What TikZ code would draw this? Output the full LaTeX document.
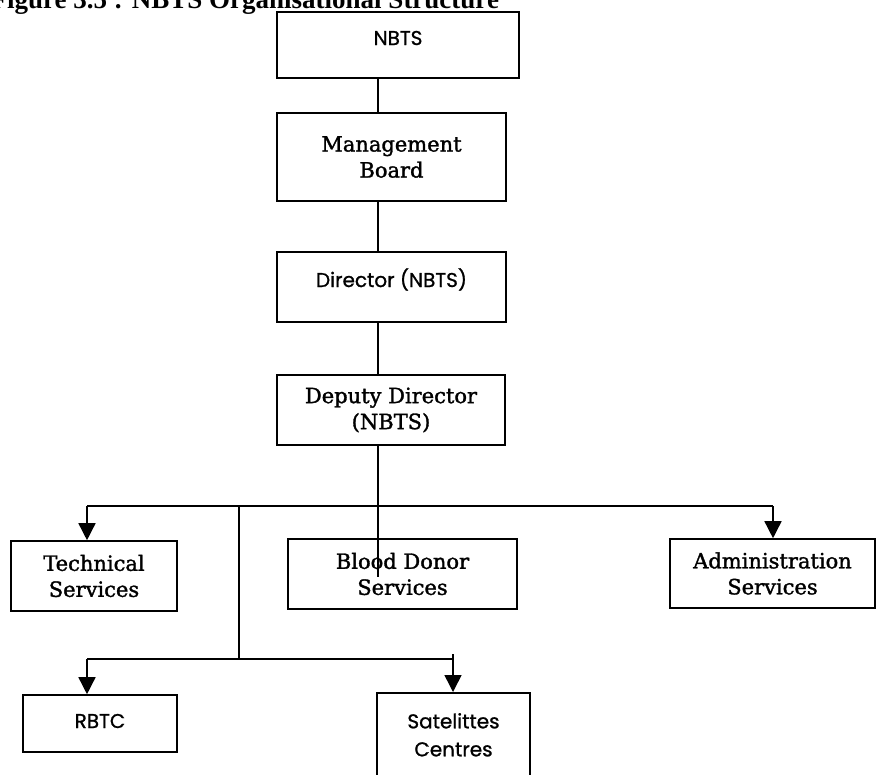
\documentclass[tikz,border=0pt]{standalone}
\usepackage{fontspec}
\newfontfamily\titlefont{Liberation Serif}
\newfontfamily\serifbox{DejaVu Serif}[FakeBold=1.5]
\newfontfamily\sansbox{Poppins}[FakeBold=1]
\usetikzlibrary{arrows.meta}
\begin{document}
\begin{tikzpicture}[x=1pt,y=-1pt,
  box/.style={draw, line width=1.6pt, inner sep=0pt, align=center},
  sbox/.style={box, font=\fontsize{21}{26}\serifbox},
  gbox/.style={box, font=\fontsize{20}{28}\sansbox, text height=14pt, text depth=14pt},
  conn/.style={line width=1.5pt},
  arr/.style={conn, -{Triangle[length=17pt,width=17pt]}}
]
\useasboundingbox (0,0) rectangle (877,774);
\node[anchor=base west, inner sep=0pt, font=\titlefont\bfseries\fontsize{27}{30}\selectfont] (title) at (-9.5,8) {Figure 3.5 : NBTS Organisational Structure};

\node[gbox, minimum width=242pt, minimum height=66pt] (nbts) at (398,45) {NBTS};
\node[sbox, minimum width=229pt, minimum height=88pt] (mgmt) at (391.5,157) {Management\\Board};
\node[gbox, minimum width=229pt, minimum height=70pt] (dir) at (391.5,287) {Director (NBTS)};
\node[sbox, minimum width=228pt, minimum height=70pt] (dep) at (391,410) {Deputy Director\\(NBTS)};
\node[sbox, minimum width=166pt, minimum height=70pt] (tech) at (94,576) {Technical\\Services};
\node[sbox, minimum width=229pt, minimum height=70pt] (blood) at (402.5,574) {Blood Donor\\Services};
\node[sbox, minimum width=205pt, minimum height=69pt] (admin) at (772.5,573.5) {Administration\\Services};
\node[gbox, minimum width=154pt, minimum height=57pt, text height=14pt, text depth=5pt] (rbtc) at (100,723.5) {RBTC};
\node[box, font=\fontsize{20}{28}\sansbox, minimum width=153pt, minimum height=84pt, anchor=north] (sat) at (453.5,692) {Satelittes\\Centres};

\coordinate (sp) at (378,0);
\coordinate (busL) at (87,506);
\coordinate (busR) at (773,506);
\coordinate (drop) at (239,506);
\coordinate (bloodtick) at (378,577);
\coordinate (b2L) at (87,659);
\coordinate (b2M) at (239,659);
\coordinate (b2R) at (453,659);
\coordinate (b2Rtop) at (453,654);

\draw[conn] (nbts.south -| sp) -- (mgmt.north -| sp);
\draw[conn] (mgmt.south -| sp) -- (dir.north -| sp);
\draw[conn] (dir.south -| sp) -- (dep.north -| sp);
\draw[conn] (dep.south -| sp) -- (bloodtick);
\draw[conn] (busL) -- (busR);
\draw[arr] (busL) -- (busL |- tech.north);
\draw[arr] (busR) -- (busR |- admin.north);
\draw[conn] (drop) -- (b2M);
\draw[conn] (b2L) -- (b2R);
\draw[arr] (b2L) -- (b2L |- rbtc.north);
\draw[arr] (b2Rtop) -- (b2R |- sat.north);
\end{tikzpicture}
\end{document}
